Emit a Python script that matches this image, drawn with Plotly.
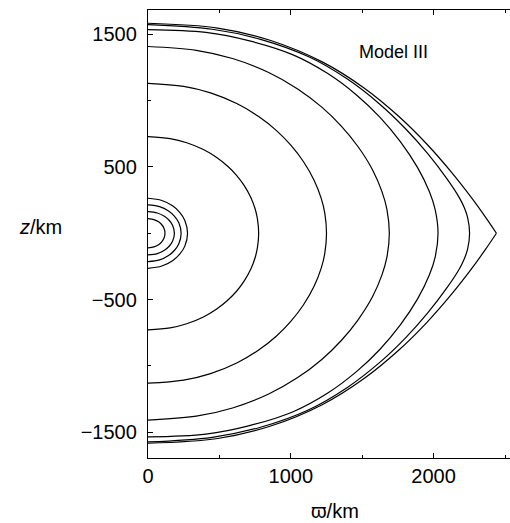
import plotly.graph_objects as go

# Isodensity contours in the meridional plane (upper half, pole -> equator).
# w = cylindrical radius varpi [km], z = height [km]
c1_w = [0, 488, 854, 1220, 1513, 1757, 1952, 2123, 2269, 2367, 2440]
c1_z = [1583, 1547, 1455, 1292, 1095, 880, 673, 463, 263, 116, 0]

c2_w = [0, 450, 788, 1126, 1396, 1621, 1802, 1959, 2094, 2182, 2216, 2238, 2252]
c2_z = [1573, 1538, 1462, 1330, 1162, 975, 790, 600, 410, 265, 190, 120, 0]

c3_w = [0, 406, 711, 1016, 1259, 1462, 1625, 1767, 1889, 1970, 2011, 2031]
c3_z = [1535, 1514, 1450, 1345, 1204, 1041, 874, 691, 493, 315, 179, 0]

c4_w = [0, 338, 592, 845, 1048, 1217, 1352, 1470, 1572, 1639, 1673, 1690]
c4_z = [1408, 1379, 1317, 1212, 1088, 951, 810, 654, 479, 312, 180, 0]

c5_w = [0, 250, 438, 625, 775, 900, 1000, 1088, 1163, 1213, 1238, 1250]
c5_z = [1130, 1107, 1058, 976, 880, 774, 664, 541, 400, 263, 152, 0]

c6_w = [0, 155, 271, 388, 481, 558, 620, 674, 721, 752, 767, 775]
c6_z = [728, 713, 682, 631, 571, 505, 437, 359, 268, 177, 103, 0]

c7_w = [0, 97, 172, 222, 258, 277]
c7_z = [264, 247, 207, 158, 97, 0]

c8_w = [0, 81, 144, 186, 216, 232]
c8_z = [214, 201, 168, 128, 79, 0]

c9_w = [0, 65, 115, 148, 172, 185]
c9_z = [163, 153, 128, 98, 60, 0]

c10_w = [0, 42, 74, 95, 111, 119]
c10_z = [110, 103, 86, 66, 40, 0]

# the outermost surface ends in a cusp at the equator
cusp_contours = [(c1_w, c1_z)]
round_contours = [(c2_w, c2_z), (c3_w, c3_z), (c4_w, c4_z), (c5_w, c5_z),
                  (c6_w, c6_z), (c7_w, c7_z), (c8_w, c8_z), (c9_w, c9_z),
                  (c10_w, c10_z)]

x_ticks = [0, 1000, 2000]
y_ticks = [-1500, -500, 500, 1500]

LINE = dict(color="black", width=1.2, shape="spline", smoothing=1.0)

fig = go.Figure()

for w, z in round_contours:
    # reflect the upper half through the equatorial plane
    full_w = list(w) + list(reversed(w[:-1]))
    full_z = list(z) + [-v for v in reversed(z[:-1])]
    fig.add_trace(go.Scatter(x=full_w, y=full_z, mode="lines", line=LINE,
                             hoverinfo="skip", showlegend=False))

for w, z in cusp_contours:
    fig.add_trace(go.Scatter(x=w, y=z, mode="lines", line=LINE,
                             hoverinfo="skip", showlegend=False))
    fig.add_trace(go.Scatter(x=w, y=[-v for v in z], mode="lines", line=LINE,
                             hoverinfo="skip", showlegend=False))

FONT = dict(family="Liberation Sans, Arial, sans-serif", size=20, color="black")

axis_common = dict(
    showgrid=False, zeroline=False, showline=True, linecolor="black",
    linewidth=1.3, ticks="inside", ticklen=5, tickwidth=1, tickcolor="black",
    tickfont=FONT,
)

fig.update_xaxes(
    range=[0, 2535], tickvals=x_ticks, ticktext=[str(v) for v in x_ticks],
    mirror="ticks",
    minor=dict(ticks="inside", ticklen=3, tickwidth=1, tickcolor="black",
               tickvals=[500, 1500, 2500]),
    **axis_common,
)
fig.update_yaxes(
    range=[-1694, 1683], tickvals=y_ticks,
    ticktext=["\u22121500", "\u2212500", "500", "1500"],
    minor=dict(ticks="inside", ticklen=3, tickwidth=1, tickcolor="black",
               tickvals=[-1000, 0, 1000]),
    ticklabelstandoff=6,
    **axis_common,
)

fig.add_annotation(x=1720, y=1369, xref="x", yref="y", text="Model III",
                   showarrow=False, font=dict(FONT, size=18))
fig.add_annotation(x=-0.298, y=0.516, xref="paper", yref="paper",
                   xanchor="center", yanchor="middle",
                   text="<i>z</i>/km", showarrow=False, font=FONT)
fig.add_annotation(x=0.517, y=-0.118, xref="paper", yref="paper",
                   xanchor="center", yanchor="middle",
                   text="\u03d6/km", showarrow=False, font=FONT)

fig.update_layout(
    width=510, height=523,
    margin=dict(l=148, r=0, t=10, b=65),
    paper_bgcolor="white", plot_bgcolor="white",
)

fig.write_html("out.html")
